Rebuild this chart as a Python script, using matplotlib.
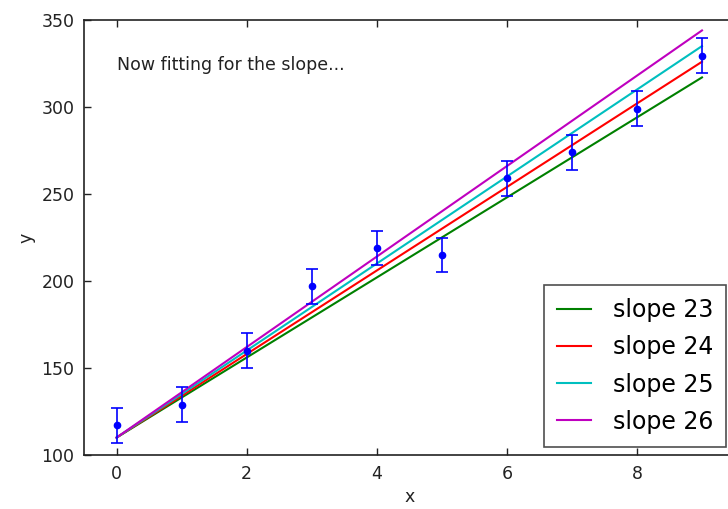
import matplotlib.pyplot as plt
import numpy as np

# data
x_data = [0, 1, 2, 3, 4, 5, 6, 7, 8, 9]
y_data = [117, 129, 160, 197, 219, 215, 259, 274, 299, 329.5]
y_err = [10, 10, 10, 10, 10, 10, 10, 10, 10, 10]

intercept = 110
slopes = [23, 24, 25, 26]
slope_colors = ['g', 'r', 'c', 'm']
slope_labels = ['slope 23', 'slope 24', 'slope 25', 'slope 26']

plt.rcParams['font.family'] = 'DejaVu Sans'

fig = plt.figure(figsize=(7.28, 5.09), dpi=100, facecolor='white')
# the reference is cropped on the right: the right spine sits just off canvas
ax = fig.add_axes([84 / 728, 54 / 509, 650.5 / 728, 435 / 509])

xs = np.array([0, 9])
for s, c, lab in zip(slopes, slope_colors, slope_labels):
    ax.plot(xs, intercept + s * xs, color=c, lw=1.5, label=lab)

ax.errorbar(x_data, y_data, yerr=y_err, fmt='o', color='b', ms=4.5,
            capsize=4, elinewidth=1.2, capthick=1.2)

ax.text(0, 324, 'Now fitting for the slope...', fontsize=12.5,
        va='center', ha='left', color='#222222')

ax.set_xlim(-0.5, 9.5)
ax.set_ylim(100, 350)
ax.set_xticks([0, 2, 4, 6, 8])
ax.set_yticks([100, 150, 200, 250, 300, 350])
ax.tick_params(direction='in', length=5, width=1, labelsize=12.5,
               top=True, right=True, pad=7, colors='#222222')
for sp in ax.spines.values():
    sp.set_linewidth(1.2)
    sp.set_color('#222222')

ax.set_xlabel('x', fontsize=12.5, color='#222222')
ax.set_ylabel('y', fontsize=12.5, color='#222222')

leg = ax.legend(loc='lower right', fontsize=17, fancybox=False,
                borderaxespad=0.35, borderpad=0.55, handlelength=1.45,
                handletextpad=0.9, labelspacing=0.56)
leg.get_frame().set_edgecolor('#222222')
leg.get_frame().set_linewidth(1.2)

fig.savefig('out.png', dpi=100, facecolor='white')
